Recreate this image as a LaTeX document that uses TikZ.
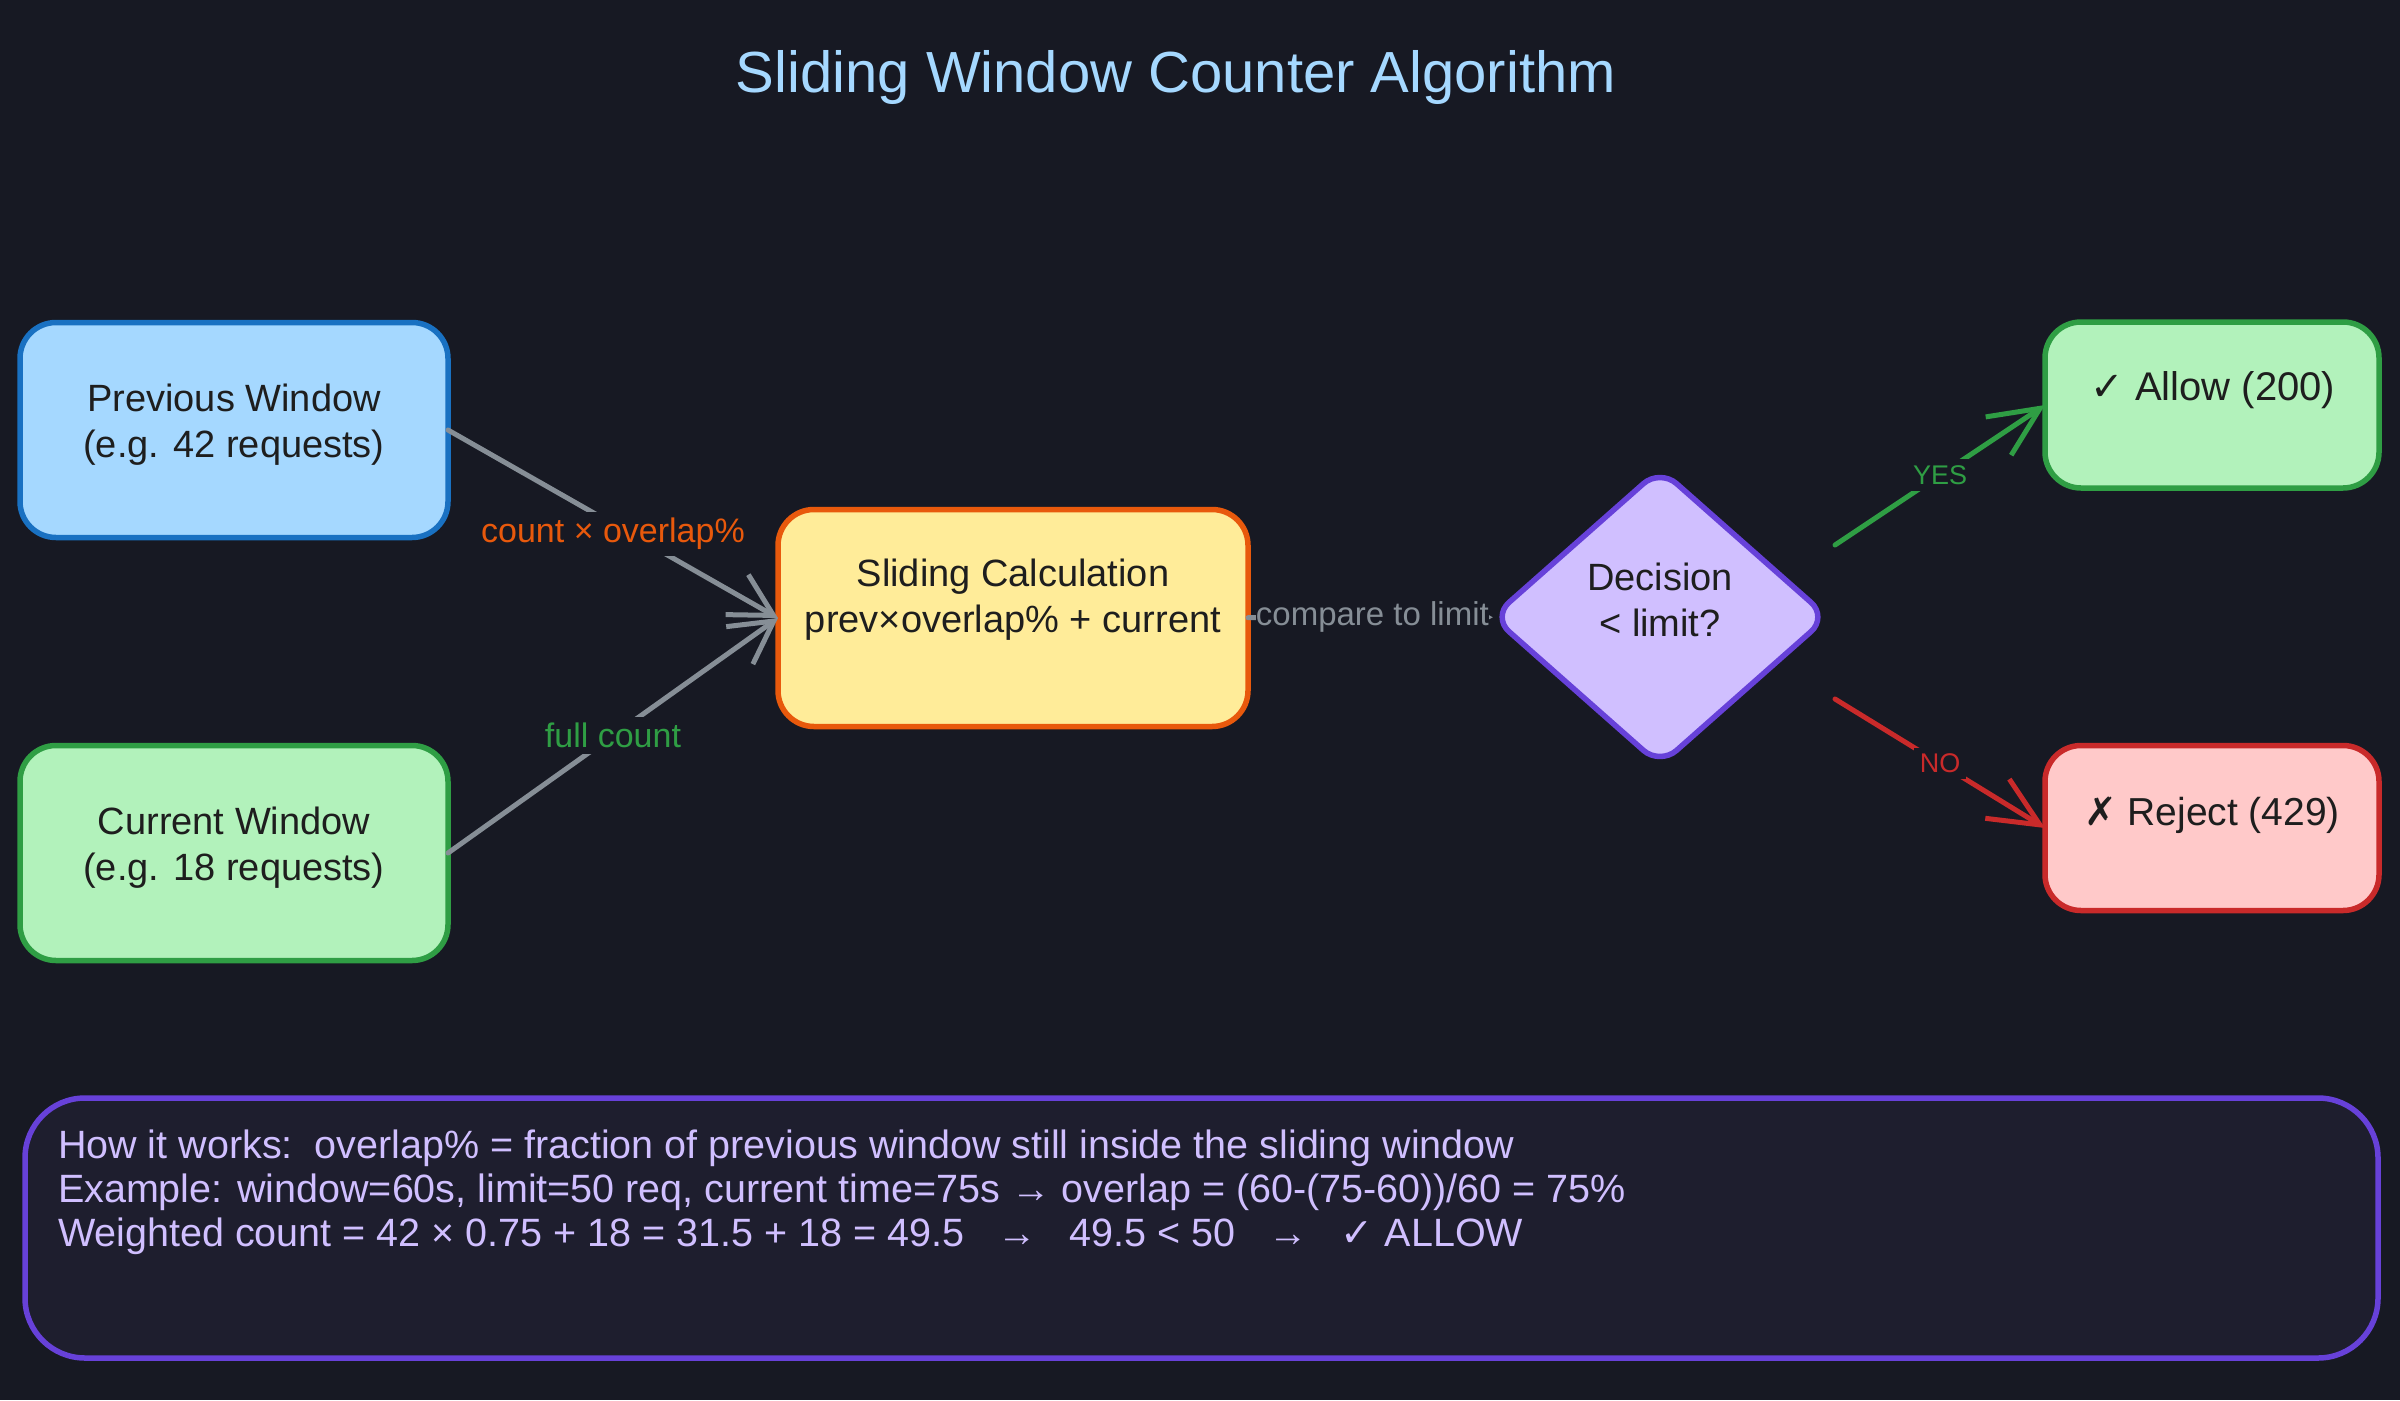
\documentclass[tikz,border=0pt]{standalone}
\usepackage{fontspec}
\setmainfont{Liberation Sans}
\newfontfamily\symfont{DejaVu Sans}
\newcommand*{\titlefnt}{\fontsize{58}{70}\selectfont}
\newcommand*{\boxfnt}{\fontsize{38}{46}\selectfont}
\newcommand*{\edgefnt}{\fontsize{34}{38}\selectfont}
\newcommand*{\smallfnt}{\fontsize{27}{32}\selectfont}
\newcommand*{\notefnt}{\fontsize{39.5}{44}\selectfont}
\definecolor{bg}{HTML}{171923}
\definecolor{panel}{HTML}{1E1E2E}
\definecolor{ink}{HTML}{1E1E1E}
\definecolor{blueFill}{HTML}{A5D8FF}
\definecolor{blueLine}{HTML}{1971C2}
\definecolor{greenFill}{HTML}{B2F2BB}
\definecolor{greenLine}{HTML}{2F9E44}
\definecolor{yellowFill}{HTML}{FFEC99}
\definecolor{orangeLine}{HTML}{E8590C}
\definecolor{violetFill}{HTML}{D0BFFF}
\definecolor{violetLine}{HTML}{6741D9}
\definecolor{redFill}{HTML}{FFC9C9}
\definecolor{redLine}{HTML}{C92A2A}
\definecolor{greyLine}{HTML}{868E96}
\usepackage{tikz}
\usetikzlibrary{arrows.meta}
\usetikzlibrary{shapes.geometric}
\tikzstyle{base}=[x=1pt, y=-1pt, inner sep=0pt, outer sep=0pt]
\tikzstyle{card}=[draw, line width=5.5pt, rounded corners=36pt, minimum width=428pt, minimum height=215pt]
\tikzstyle{cardtext}=[ink, align=center, font=\boxfnt]
\tikzstyle{flow}=[line width=5pt, line cap=round, -{Straight Barb[length=42pt, width=46pt]}]
\tikzstyle{edgelabel}=[fill=bg, inner sep=6pt, font=\edgefnt]

\begin{document}
\begin{tikzpicture}[base]
    \fill [bg] (0,0) rectangle (2400,1400);
    \path [use as bounding box] (0,0) rectangle (2400,1400);
    \node [blueFill, font=\titlefnt, anchor=base] (title) at (1176,92) {Sliding Window Counter Algorithm};
    % left inputs
    \node [card, draw=blueLine, fill=blueFill] (prev) at (234,430) {};
    \node [cardtext] (prevText) at (234,425) {Previous Window\\(e.g. 42 requests)};
    \node [card, draw=greenLine, fill=greenFill] (cur) at (234,853) {};
    \node [cardtext] (curText) at (234,848) {Current Window\\(e.g. 18 requests)};
    % middle
    \node [card, draw=orangeLine, fill=yellowFill, minimum width=470pt, minimum height=217pt] (calc) at (1013,618) {};
    \node [cardtext] (calcText) at (1013,600) {Sliding Calculation\\prev×overlap\% + current};
    \node [diamond, draw=violetLine, fill=violetFill, line width=5.5pt, rounded corners=22pt, minimum width=335pt, minimum height=296pt] (dec) at (1660,617) {};
    \node [cardtext] (decText) at (1660,600) {Decision\\< limit?};
    % outcomes
    \node [card, draw=greenLine, fill=greenFill, minimum width=334pt, minimum height=166pt] (allow) at (2212,405) {};
    \node [cardtext, anchor=base, font=\fontsize{40}{46}\selectfont] (allowText) at (2213,400) {{\symfont ✓} Allow (200)};
    \node [card, draw=redLine, fill=redFill, minimum width=334pt, minimum height=165pt] (reject) at (2212,828) {};
    \node [cardtext, anchor=base, font=\fontsize{39}{46}\selectfont] (rejectText) at (2212,825) {{\symfont ✗} Reject (429)};
    \coordinate (yesFrom) at (1835,545);
    \coordinate (noFrom) at (1835,699);
    % connectors
    \draw [flow, greyLine] (prev.east) -- node [edgelabel, text=orangeLine, yshift=-10pt] {count × overlap\%} (calc.west);
    \draw [flow, greyLine] (cur.east) -- node [edgelabel, text=greenLine] {full count} (calc.west);
    \draw [flow, greyLine] (calc) -- node [edgelabel, text=greyLine, inner xsep=0pt, inner ysep=11pt, xshift=2pt, font=\fontsize{33}{38}\selectfont] {compare to limit} (dec);
    \draw [flow, greenLine, -{Straight Barb[length=50pt, width=46pt]}] (yesFrom) -- node [edgelabel, font=\smallfnt] {YES} (allow.west);
    \draw [flow, redLine, -{Straight Barb[length=50pt, width=46pt]}] (noFrom) -- node [edgelabel, font=\smallfnt] {NO} (reject.west);
    % notes
    \node [draw=violetLine, fill=panel, line width=5.5pt, rounded corners=60pt, minimum width=2353pt, minimum height=260pt] (notes) at (1201.5,1228) {};
    \node [violetFill, font=\notefnt, align=left, anchor=north west] (notesText) at (58,1130) {How it works:~~overlap\% = fraction of previous window still inside the sliding window\\Example: window=60s, limit=50 req, current time=75s → overlap = (60-(75-60))/60 = 75\%\\Weighted count = 42 × 0.75 + 18 = 31.5 + 18 = 49.5~~~→~~~49.5 < 50~~~→~~~{\symfont ✓} ALLOW};
\end{tikzpicture}
\end{document}
